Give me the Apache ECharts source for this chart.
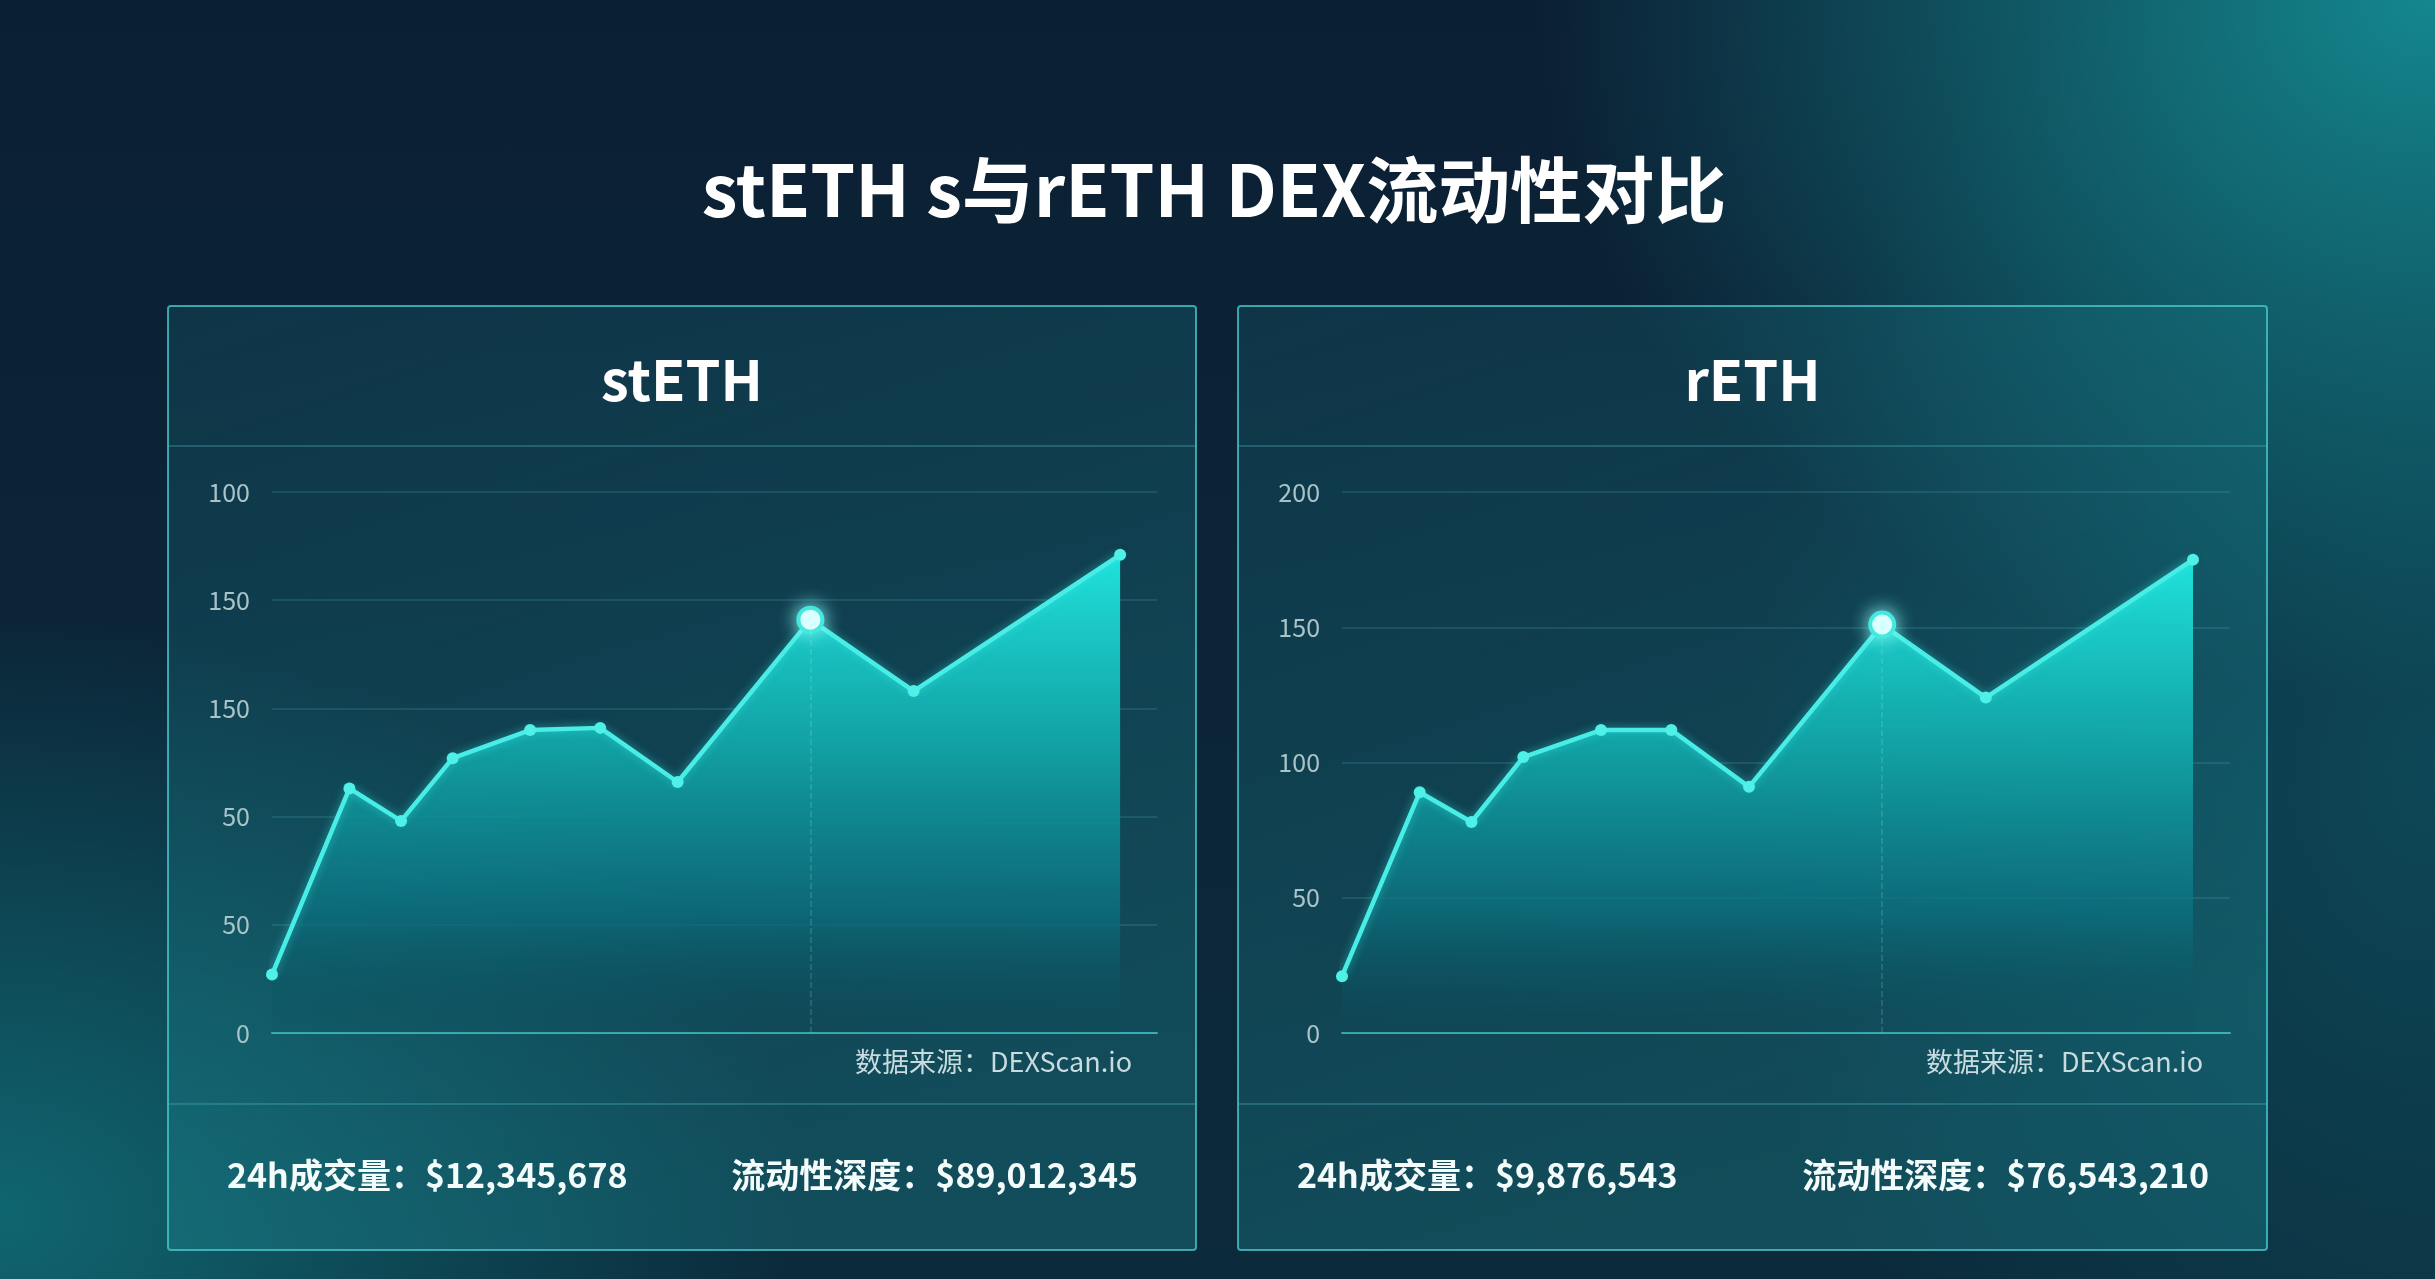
<!DOCTYPE html>
<html><head><meta charset="utf-8">
<script src="https://cdn.jsdelivr.net/npm/echarts@6/dist/echarts.min.js"></script>
<style>
html,body{margin:0;padding:0;width:2435px;height:1279px;overflow:hidden;}
body{background:
 radial-gradient(ellipse 900px 700px at 100% 0%, rgba(20,135,142,1) 0%, rgba(20,135,142,0) 100%),
 radial-gradient(ellipse 800px 600px at 0% 95%, rgba(16,105,115,0.95) 0%, rgba(16,105,115,0) 100%),
 radial-gradient(ellipse 700px 900px at 100% 60%, rgba(14,80,95,0.8) 0%, rgba(14,80,95,0) 100%),
 linear-gradient(180deg, #0b1f33 0%, #0b2537 50%, #0b2a3a 100%);}
#c{width:2435px;height:1279px;}
</style></head><body><div id="c"></div>
<script>
// ---- data ----
const hours = [0, 2.1, 3.5, 4.9, 7, 8.9, 11, 14.6, 17.4, 23];
const stethValues = [27, 113, 98, 127, 140, 141, 116, 191, 158, 221];
const rethValues = [21, 89, 78, 102, 112, 112, 91, 151, 124, 175];
const stethTickLabels = ['0', '50', '50', '150', '150', '100'];
const rethTickLabels = ['0', '50', '100', '150', '200'];
const tokenNames = ['stETH', 'rETH'];
const volumeLabel = '24h成交量：';
const depthLabel = '流动性深度：';
const volume24h = ['$12,345,678', '$9,876,543'];
const liquidityDepth = ['$89,012,345', '$76,543,210'];
const highlightIndex = 7;
const chartTitle = 'stETH s与rETH DEX流动性对比';
const sourceText = '数据来源：DEXScan.io';

// ---- layout ----
const panels = [
  {x: 168, y: 306, w: 1028, h: 944, gridLeft: 272, gridW: 885},
  {x: 1238, y: 306, w: 1029, h: 944, gridLeft: 1342, gridW: 888}
];
const gridTop = 492, gridH = 541;
const FONT = '"Noto Sans CJK SC","Noto Sans",sans-serif';

const chart = echarts.init(document.getElementById('c'), null, {renderer: 'canvas'});

function makeSeries(idx, values) {
  const data = hours.map((h, i) => i === highlightIndex ? {
    value: [h, values[i]], symbolSize: 24,
    itemStyle: {color: '#f2ffff', borderColor: '#45e8e1', borderWidth: 4, shadowBlur: 18, shadowColor: 'rgba(140,255,250,0.95)'}
  } : [h, values[i]]);
  return {
    type: 'line', xAxisIndex: idx, yAxisIndex: idx, data,
    symbol: 'circle', symbolSize: 12, showSymbol: true, animation: false,
    lineStyle: {color: '#48ede6', width: 4.5, shadowBlur: 8, shadowColor: 'rgba(60,240,230,0.5)'},
    itemStyle: {color: '#4ef0e8'},
    areaStyle: {opacity: 1, color: new echarts.graphic.LinearGradient(0, 0, 0, 1, [
      {offset: 0, color: 'rgba(32,226,220,1)'},
      {offset: 0.4, color: 'rgba(18,166,168,0.95)'},
      {offset: 0.75, color: 'rgba(12,112,126,0.8)'},
      {offset: 1, color: 'rgba(10,75,90,0.1)'}
    ])},
    markLine: {
      silent: true, symbol: 'none', label: {show: false},
      lineStyle: {type: 'dashed', color: 'rgba(170,245,245,0.2)', width: 1.5},
      data: [[{coord: [hours[highlightIndex], 0]}, {coord: [hours[highlightIndex], values[highlightIndex]]}]]
    },
    z: 3
  };
}

function yAxis(idx, labels) {
  return {
    type: 'value', gridIndex: idx, min: 0, max: (labels.length - 1) * 50, interval: 50,
    axisLine: {show: false}, axisTick: {show: false},
    axisLabel: {color: '#a9c4c8', fontSize: 25, margin: 22, fontFamily: FONT,
      formatter: v => labels[Math.round(v / 50)]},
    splitLine: {lineStyle: {color: 'rgba(90,195,205,0.22)', width: 1.5}}
  };
}
function xAxis(idx) {
  return {
    type: 'value', gridIndex: idx, min: 0, max: 24,
    axisLabel: {show: false}, axisTick: {show: false}, splitLine: {show: false},
    axisLine: {show: true, onZero: false, lineStyle: {color: 'rgba(70,210,210,0.7)', width: 2}}
  };
}

const graphics = [];
panels.forEach((p, i) => {
  graphics.push({
    type: 'rect', z: 0, silent: true,
    shape: {x: p.x, y: p.y, width: p.w, height: p.h, r: 3},
    style: {
      fill: new echarts.graphic.LinearGradient(0, 0, 0.3, 1, [
        {offset: 0, color: 'rgba(25,110,125,0.26)'},
        {offset: 1, color: 'rgba(30,140,150,0.36)'}
      ]),
      stroke: 'rgba(75,205,210,0.75)', lineWidth: 2
    }
  });
  graphics.push({type: 'line', z: 1, silent: true,
    shape: {x1: p.x, y1: 446, x2: p.x + p.w, y2: 446},
    style: {stroke: 'rgba(80,190,200,0.3)', lineWidth: 2}});
  graphics.push({type: 'line', z: 1, silent: true,
    shape: {x1: p.x, y1: 1104, x2: p.x + p.w, y2: 1104},
    style: {stroke: 'rgba(80,190,200,0.3)', lineWidth: 2}});
  graphics.push({type: 'text', z: 5, silent: true, x: p.x + p.w / 2, y: 380,
    style: {text: tokenNames[i], fill: '#ffffff', font: 'bold 56px ' + FONT, align: 'center', verticalAlign: 'middle'}});
  graphics.push({type: 'text', z: 5, silent: true, x: p.x + p.w - 64, y: 1062,
    style: {text: sourceText, fill: '#c8dcdf', font: '27px ' + FONT, align: 'right', verticalAlign: 'middle'}});
  graphics.push({type: 'text', z: 5, silent: true, x: p.x + 59, y: 1175,
    style: {text: volumeLabel + volume24h[i], fill: '#f4fbfb', font: 'bold 34px ' + FONT, align: 'left', verticalAlign: 'middle',
      shadowBlur: 6, shadowColor: 'rgba(0,0,0,0.35)'}});
  graphics.push({type: 'text', z: 5, silent: true, x: p.x + p.w - 58, y: 1175,
    style: {text: depthLabel + liquidityDepth[i], fill: '#f4fbfb', font: 'bold 34px ' + FONT, align: 'right', verticalAlign: 'middle',
      shadowBlur: 6, shadowColor: 'rgba(0,0,0,0.35)'}});
});
graphics.push({type: 'text', z: 5, silent: true, x: 1214, y: 190,
  style: {text: chartTitle, fill: '#ffffff', font: 'bold 72px ' + FONT, align: 'center', verticalAlign: 'middle',
    shadowBlur: 8, shadowColor: 'rgba(0,0,0,0.4)'}});

chart.setOption({
  backgroundColor: 'transparent',
  animation: false,
  grid: panels.map(p => ({left: p.gridLeft, top: gridTop, width: p.gridW, height: gridH, containLabel: false})),
  xAxis: [xAxis(0), xAxis(1)],
  yAxis: [yAxis(0, stethTickLabels), yAxis(1, rethTickLabels)],
  series: [makeSeries(0, stethValues), makeSeries(1, rethValues)],
  graphic: graphics
});
</script>
</body></html>
